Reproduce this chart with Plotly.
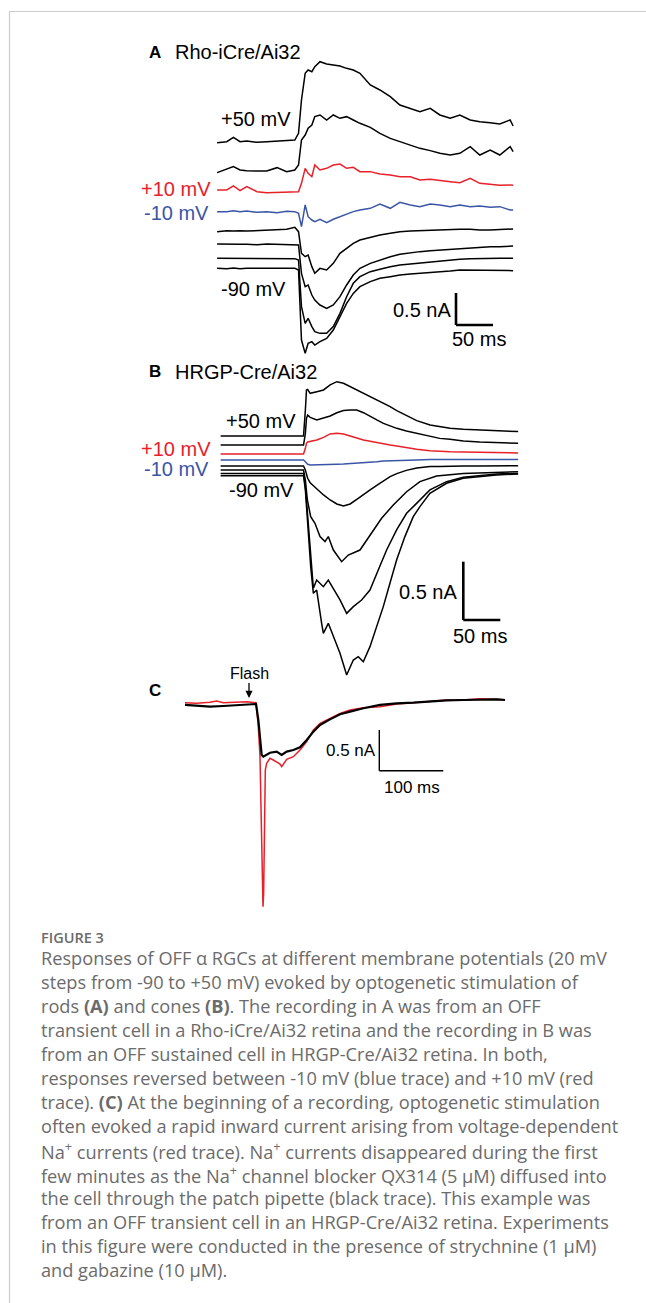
import plotly.graph_objects as go

W, H = 646, 1303

# ---------------- Panel A : Rho-iCre/Ai32 (time ms, current nA) ----------------
tA = [-112, -99, -90, -81, -72, -58, -45, -31, -18, -7, -2, 2, 7, 11, 16, 20, 27, 36, 45, 54,
      63, 72, 81, 95, 108, 122, 135, 149, 162, 176, 189, 203, 216, 230, 243, 257, 270, 284, 288]
iA_p50 = [2.042, 2.057, 2.125, 2.057, 2.068, 2.047, 2.057, 2.068, 2.073, 2.083,
          2.188, 2.708, 3.125, 3.177, 3.151, 3.229, 3.307, 3.271, 3.255, 3.240,
          3.203, 3.177, 3.125, 2.943, 2.865, 2.760, 2.630, 2.578, 2.526, 2.578,
          2.474, 2.422, 2.474, 2.396, 2.370, 2.354, 2.333, 2.396, 2.302]
iA_p30 = [1.573, 1.625, 1.667, 1.615, 1.604, 1.599, 1.599, 1.651, 1.589, 1.615,
          1.693, 2.083, 2.161, 2.266, 2.318, 2.448, 2.474, 2.396, 2.474, 2.422,
          2.448, 2.396, 2.344, 2.281, 2.188, 2.109, 2.057, 2.005, 1.953, 1.917,
          1.875, 1.849, 1.875, 1.979, 1.849, 1.927, 1.849, 1.979, 1.901]
iA_p10 = [1.302, 1.302, 1.365, 1.292, 1.354, 1.276, 1.260, 1.266, 1.276, 1.276,
          1.276, 1.406, 1.641, 1.563, 1.510, 1.693, 1.615, 1.641, 1.693, 1.708,
          1.641, 1.656, 1.589, 1.589, 1.552, 1.536, 1.510, 1.510, 1.458, 1.469,
          1.448, 1.432, 1.417, 1.484, 1.406, 1.396, 1.375, 1.380, 1.375]
iA_m10 = [0.964, 0.964, 0.979, 0.964, 0.974, 0.953, 0.964, 0.948, 0.969, 0.964,
          0.938, 0.729, 1.068, 0.885, 0.833, 0.807, 0.844, 0.792, 0.844, 0.885,
          0.927, 0.964, 0.990, 1.016, 1.083, 1.016, 1.109, 1.068, 1.042, 1.083,
          1.068, 1.042, 1.068, 1.042, 1.052, 1.031, 1.042, 0.990, 0.990]
iA_m30 = [0.651, 0.667, 0.661, 0.667, 0.661, 0.667, 0.677, 0.677, 0.688, 0.719,
          0.651, 0.313, 0.260, 0.286, 0.104, 0.000, 0.078, 0.052, 0.156, 0.313,
          0.391, 0.469, 0.521, 0.563, 0.599, 0.625, 0.651, 0.661, 0.667, 0.677,
          0.677, 0.688, 0.688, 0.688, 0.677, 0.677, 0.688, 0.693, 0.693]
iA_m50 = [0.458, 0.453, 0.448, 0.453, 0.453, 0.448, 0.458, 0.453, 0.448, 0.448,
          0.443, 0.000, -0.208, -0.182, -0.339, -0.417, -0.495, -0.547, -0.495, -0.365,
          -0.182, -0.026, 0.078, 0.156, 0.208, 0.260, 0.297, 0.323, 0.339, 0.354,
          0.365, 0.375, 0.391, 0.406, 0.406, 0.417, 0.417, 0.417, 0.427]
iA_m70 = [0.234, 0.234, 0.229, 0.234, 0.240, 0.234, 0.234, 0.234, 0.234, 0.229,
          0.208, -0.521, -0.781, -0.703, -0.833, -0.911, -0.938, -0.938, -0.833, -0.625,
          -0.365, -0.156, -0.052, 0.026, 0.063, 0.104, 0.130, 0.146, 0.167, 0.182,
          0.198, 0.208, 0.219, 0.229, 0.234, 0.234, 0.234, 0.234, 0.234]
iA_m90 = [0.078, 0.073, 0.083, 0.073, 0.078, 0.073, 0.078, 0.078, 0.073, 0.078,
          0.052, -1.042, -1.250, -1.094, -1.068, -1.120, -1.068, -1.016, -0.885, -0.677,
          -0.469, -0.313, -0.208, -0.130, -0.078, -0.052, -0.026, -0.010, 0.000, 0.010,
          0.016, 0.036, 0.052, 0.052, 0.052, 0.042, 0.052, 0.042, 0.042]

# ---------------- Panel B : HRGP-Cre/Ai32 ----------------
tB = [-114, -79, -34, -2, 0.5, 2, 3.6, 7, 16, 25, 34, 43, 52, 61, 70, 79, 88, 97, 106, 115,
      124, 137, 151, 169, 182, 196, 214, 236, 259, 288]
iB_p50 = [0.491, 0.491, 0.489, 0.491, 0.714, 0.886, 0.891, 0.857, 0.871, 0.886,
          0.929, 0.957, 0.943, 0.914, 0.886, 0.863, 0.834, 0.800, 0.771, 0.743,
          0.709, 0.666, 0.623, 0.586, 0.571, 0.557, 0.549, 0.543, 0.534, 0.529]
iB_p30 = [0.414, 0.414, 0.411, 0.414, 0.514, 0.643, 0.671, 0.651, 0.629, 0.643,
          0.663, 0.691, 0.709, 0.714, 0.714, 0.691, 0.657, 0.629, 0.600, 0.577,
          0.557, 0.534, 0.514, 0.486, 0.471, 0.463, 0.449, 0.440, 0.434, 0.429]
iB_p10 = [0.337, 0.337, 0.337, 0.337, 0.386, 0.429, 0.440, 0.443, 0.457, 0.480,
          0.509, 0.514, 0.509, 0.491, 0.471, 0.457, 0.446, 0.434, 0.426, 0.414,
          0.406, 0.391, 0.377, 0.366, 0.360, 0.357, 0.354, 0.351, 0.349, 0.346]
iB_m10 = [0.286, 0.286, 0.286, 0.286, 0.271, 0.257, 0.249, 0.243, 0.246, 0.246,
          0.249, 0.249, 0.251, 0.254, 0.257, 0.260, 0.266, 0.271, 0.277, 0.280,
          0.283, 0.286, 0.286, 0.289, 0.289, 0.289, 0.289, 0.289, 0.289, 0.289]
iB_m30 = [0.234, 0.234, 0.234, 0.234, 0.200, 0.157, 0.129, 0.091, 0.034, -0.014,
          -0.057, -0.091, -0.109, -0.091, -0.051, -0.014, 0.029, 0.069, 0.109, 0.143,
          0.169, 0.197, 0.217, 0.229, 0.231, 0.234, 0.234, 0.234, 0.237, 0.237]
tB_m50 = [-114, -79, -34, -2, 0.5, 3.2, 7.7, 13.5, 20.3, 27, 31.5, 38.3, 49.5, 58.5, 74.3,
          87.8, 103.5, 119.3, 137.3, 155.3, 177.8, 213.8, 258.8, 288]
iB_m50 = [0.200, 0.200, 0.200, 0.200, 0.114, -0.057, -0.200, -0.257, -0.371, -0.414,
          -0.371, -0.486, -0.586, -0.529, -0.486, -0.357, -0.214, -0.100, 0.014, 0.100,
          0.149, 0.171, 0.183, 0.186]
tB_m70 = [-114, -79, -34, -2, 0.5, 3.2, 7.7, 11.3, 15.8, 24.8, 31.5, 38.3, 47.3, 56.3, 65.3,
          76.5, 87.8, 99, 110.3, 123.8, 137.3, 150.8, 168.8, 191.3, 213.8, 258.8, 288]
iB_m70 = [0.171, 0.171, 0.171, 0.171, 0.057, -0.143, -0.514, -0.814, -0.743, -0.800,
          -0.743, -0.814, -0.914, -1.029, -0.971, -0.914, -0.829, -0.657, -0.486, -0.314,
          -0.171, -0.086, 0.029, 0.100, 0.137, 0.166, 0.171]
tB_m90 = [-114, -79, -34, -2, 0.5, 3.2, 7.7, 11.3, 15.8, 22.5, 24.8, 31.5, 38.3, 47.3, 56.3,
          65.3, 72, 78.8, 87.8, 96.8, 105.8, 114.8, 123.8, 135, 146.3, 155.3, 168.8, 191.3,
          213.8, 258.8, 288]
iB_m90 = [0.151, 0.151, 0.151, 0.151, 0.029, -0.229, -0.629, -0.857, -0.829, -1.114,
          -1.200, -1.114, -1.229, -1.371, -1.557, -1.429, -1.400, -1.443, -1.314, -1.143,
          -0.971, -0.771, -0.571, -0.371, -0.200, -0.114, 0.000, 0.086, 0.129, 0.157, 0.166]

# ---------------- Panel C : Na+ current block ----------------
tC_black = [-112, -93.8, -72.9, -52.1, -31.3, -15.6, -1.0, 2.6, 5.2, 7.8, 10.4, 20.8, 31.3,
            39.1, 46.9, 57.3, 67.7, 78.2, 88.6, 99.0, 114.6, 130.3, 145.9, 166.7, 192.8,
            218.8, 244.9, 270.9, 297.0, 323.0, 349.1, 375.1, 388.1]
iC_black = [-0.020, -0.029, -0.041, -0.033, -0.020, -0.012, -0.008, -0.205, -0.451, -0.635,
            -0.656, -0.607, -0.594, -0.635, -0.594, -0.574, -0.541, -0.451, -0.348, -0.266,
            -0.197, -0.135, -0.102, -0.061, -0.020, 0.000, 0.008, 0.025, 0.037, 0.041,
            0.049, 0.049, 0.041]
tC_red = [-112, -93.8, -72.9, -62.5, -52.1, -31.3, -15.6, -1.0, 2.6, 5.2, 7.3, 8.9, 9.9, 10.9,
          12.0, 13.5, 15.6, 20.8, 26.0, 31.3, 36.5, 39.1, 46.9, 57.3, 67.7, 78.2, 88.6, 99.0,
          114.6, 130.3, 145.9, 166.7, 192.8, 218.8, 244.9, 270.9, 297.0, 323.0, 349.1, 375.1,
          388.1]
iC_red = [0.008, 0.000, 0.012, 0.029, 0.008, 0.012, 0.020, 0.008, -0.287, -0.656, -1.516,
          -2.336, -2.500, -2.336, -1.311, -0.820, -0.738, -0.676, -0.697, -0.717, -0.746,
          -0.779, -0.689, -0.656, -0.574, -0.471, -0.328, -0.246, -0.184, -0.123, -0.082,
          -0.053, -0.041, -0.008, 0.008, 0.020, 0.041, 0.041, 0.057, 0.049, 0.045]

# scale bars (ms, nA)
SB_A = (50, 0.5)
SB_B = (50, 0.5)
SB_C = (100, 0.5)

caption_lines = [
    "Responses of OFF α RGCs at different membrane potentials (20 mV",
    "steps from -90 to +50 mV) evoked by optogenetic stimulation of",
    "rods <b>(A)</b> and cones <b>(B)</b>. The recording in A was from an OFF",
    "transient cell in a Rho-iCre/Ai32 retina and the recording in B was",
    "from an OFF sustained cell in HRGP-Cre/Ai32 retina. In both,",
    "responses reversed between -10 mV (blue trace) and +10 mV (red",
    "trace). <b>(C)</b> At the beginning of a recording, optogenetic stimulation",
    "often evoked a rapid inward current arising from voltage-dependent",
    "Na<sup>+</sup> currents (red trace). Na<sup>+</sup> currents disappeared during the first",
    "few minutes as the Na<sup>+</sup> channel blocker QX314 (5 μM) diffused into",
    "the cell through the patch pipette (black trace). This example was",
    "from an OFF transient cell in an HRGP-Cre/Ai32 retina. Experiments",
    "in this figure were conducted in the presence of strychnine (1 μM)",
    "and gabazine (10 μM).",
]

RED = "#e8202a"
BLUE = "#3a55a5"
BLACK = "#000000"
FONT = "Arial, Liberation Sans, sans-serif"


def px(x):
    return x / W


def py(y):
    return (H - y) / H


def xaxis_cfg(origin, scale, p0, p1, anchor):
    return dict(domain=[px(p0), px(p1)], range=[(p0 - origin) / scale, (p1 - origin) / scale],
                visible=False, showgrid=False, zeroline=False, fixedrange=True, anchor=anchor)


def yaxis_cfg(origin, scale, p0, p1, anchor):
    return dict(domain=[py(p1), py(p0)], range=[(origin - p1) / scale, (origin - p0) / scale],
                visible=False, showgrid=False, zeroline=False, fixedrange=True, anchor=anchor)


fig = go.Figure()


def add(t, v, color, width, xa, ya):
    fig.add_trace(go.Scatter(x=t, y=v, mode="lines", line=dict(color=color, width=width),
                             xaxis=xa, yaxis=ya, hoverinfo="skip", showlegend=False))


for series, col in [(iA_p50, BLACK), (iA_p30, BLACK), (iA_p10, RED), (iA_m10, BLUE),
                    (iA_m30, BLACK), (iA_m50, BLACK), (iA_m70, BLACK), (iA_m90, BLACK)]:
    add(tA, series, col, 1.5, "x", "y")

for t, series, col in [(tB, iB_p50, BLACK), (tB, iB_p30, BLACK), (tB, iB_p10, RED),
                       (tB, iB_m10, BLUE), (tB, iB_m30, BLACK), (tB_m50, iB_m50, BLACK),
                       (tB_m70, iB_m70, BLACK), (tB_m90, iB_m90, BLACK)]:
    add(t, series, col, 1.5, "x2", "y2")

add(tC_red, iC_red, RED, 1.5, "x3", "y3")
add(tC_black, iC_black, BLACK, 2.2, "x3", "y3")

# axis geometry (pixel position of t=0 / I=0 and px per unit)
A_X = (300, 0.74)
A_Y = (273.33, 64.0)
B_X = (305, 0.74)
B_Y = (493.33, 116.67)
C_X = (256.67, 0.64)
C_Y = (703.33, 81.33)

fig.update_layout(
    width=W, height=H, margin=dict(l=0, r=0, t=0, b=0),
    paper_bgcolor="white", plot_bgcolor="rgba(0,0,0,0)",
    xaxis=xaxis_cfg(*A_X, 200, 525, "y"), yaxis=yaxis_cfg(*A_Y, 45, 362, "x"),
    xaxis2=xaxis_cfg(*B_X, 200, 525, "y2"), yaxis2=yaxis_cfg(*B_Y, 372, 702, "x2"),
    xaxis3=xaxis_cfg(*C_X, 175, 515, "y3"), yaxis3=yaxis_cfg(*C_Y, 655, 915, "x3"),
)

shapes = []


def scalebar(xr, yr, corner_px, corner_py, ax_x, ax_y, sb, width):
    origin_x, sx = ax_x
    origin_y, sy = ax_y
    t0 = (corner_px - origin_x) / sx
    v0 = (origin_y - corner_py) / sy
    shapes.append(dict(type="line", xref=xr, yref=yr, x0=t0, x1=t0, y0=v0, y1=v0 + sb[1],
                       line=dict(color="black", width=width)))
    shapes.append(dict(type="line", xref=xr, yref=yr, x0=t0, x1=t0 + sb[0], y0=v0, y1=v0,
                       line=dict(color="black", width=width)))


scalebar("x", "y", 456, 325, A_X, A_Y, SB_A, 2.6)
scalebar("x2", "y2", 463.3, 620, B_X, B_Y, SB_B, 2.6)
scalebar("x3", "y3", 379.3, 770.7, C_X, C_Y, SB_C, 1.4)

# frame lines
shapes.append(dict(type="line", xref="paper", yref="paper", x0=px(9), x1=1, y0=py(11.5), y1=py(11.5),
                   line=dict(color="#cccccc", width=1.2)))
shapes.append(dict(type="line", xref="paper", yref="paper", x0=px(9.5), x1=px(9.5), y0=0, y1=py(11.5),
                   line=dict(color="#cccccc", width=1.2)))
fig.update_layout(shapes=shapes)

ann = []


def label(text, x, y, xanchor="left", size=20, color="black", family=FONT, weight=None):
    font = dict(size=size, color=color, family=family)
    if weight:
        font["weight"] = weight
    ann.append(dict(text=text, x=px(x), y=py(y), xref="paper", yref="paper", xanchor=xanchor,
                    yanchor="middle", showarrow=False, font=font))


# Panel A text
label("<b>A</b>", 147, 52, size=17)
label("Rho-iCre/Ai32", 173, 52)
label("+50 mV", 219, 119)
label("+10 mV", 213, 189, "right", color=RED)
label("-10 mV", 211, 213, "right", color=BLUE)
label("-90 mV", 219, 289)
label("0.5 nA", 453, 310, "right")
label("50 ms", 479, 339, "center")
# Panel B text
label("<b>B</b>", 147, 372, size=17)
label("HRGP-Cre/Ai32", 173, 372)
label("+50 mV", 224, 421)
label("+10 mV", 213, 449, "right", color=RED)
label("-10 mV", 211, 469, "right", color=BLUE)
label("-90 mV", 227, 490)
label("0.5 nA", 459, 592, "right")
label("50 ms", 480, 636, "center")
# Panel C text
label("<b>C</b>", 147, 690, size=17)
label("0.5 nA", 378, 750, "right", size=17)
label("100 ms", 412, 787, "center", size=17)
ann.append(dict(text="Flash", x=(249 - C_X[0]) / C_X[1], y=(C_Y[0] - 698) / C_Y[1],
                xref="x3", yref="y3", showarrow=True, arrowhead=2, arrowsize=1.1, arrowwidth=1.3,
                arrowcolor="black", ax=0, ay=-25, font=dict(size=16, color="black", family=FONT)))

# Caption
CAP_FONT = "Open Sans, Lato, sans-serif"
label("FIGURE 3", 39, 937, size=14.5, color="#6b6b6b", family=CAP_FONT, weight=600)
for i, line in enumerate(caption_lines):
    label(line, 39, 958 + 24 * i, size=18.2, color="#6b6b6b", family=CAP_FONT)

fig.update_layout(annotations=ann)

fig.write_html("out.html")
